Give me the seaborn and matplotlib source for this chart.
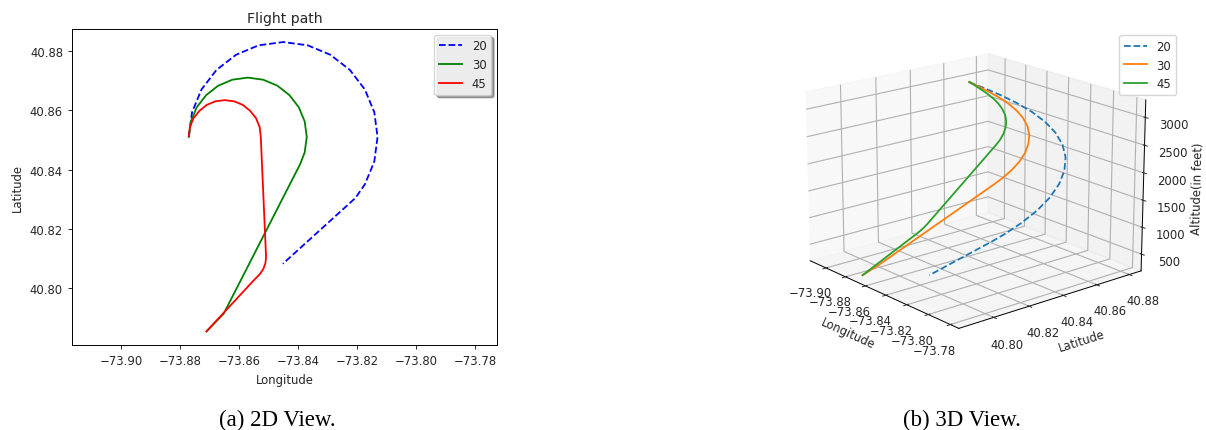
import matplotlib
matplotlib.use("Agg")
import matplotlib.pyplot as plt
import seaborn as sns
from mpl_toolkits.mplot3d import Axes3D  # noqa: F401

# ---------------- data ----------------
series_labels = ["20", "30", "45"]

lon_20 = [-73.8770, -73.8759, -73.8727, -73.8676, -73.8610, -73.8533, -73.8450,
          -73.8367, -73.8290, -73.8224, -73.8173, -73.8141, -73.8130, -73.8141,
          -73.8173, -73.8205, -73.8451]
lat_20 = [40.8510, 40.8593, 40.8670, 40.8736, 40.8787, 40.8819, 40.8830,
          40.8819, 40.8787, 40.8736, 40.8670, 40.8593, 40.8510, 40.8427,
          40.8350, 40.8304, 40.8082]
alt_20 = [3250, 3089, 2928, 2767, 2606, 2445, 2284, 2123, 1962, 1801,
          1640, 1479, 1318, 1157, 996, 889, 250]

lon_30 = [-73.8770, -73.8763, -73.8743, -73.8711, -73.8670, -73.8622, -73.8570,
          -73.8518, -73.8470, -73.8429, -73.8397, -73.8377, -73.8370, -73.8377,
          -73.8392, -73.8652, -73.8710]
lat_30 = [40.8510, 40.8562, 40.8610, 40.8651, 40.8683, 40.8703, 40.8710,
          40.8703, 40.8683, 40.8651, 40.8610, 40.8562, 40.8510, 40.8458,
          40.8419, 40.7913, 40.7854]
alt_30 = [3250, 3136, 3021, 2907, 2793, 2679, 2564, 2450, 2336, 2222,
          2107, 1993, 1879, 1765, 1674, 433, 250]

lon_45 = [-73.8770, -73.8766, -73.8754, -73.8734, -73.8709, -73.8680, -73.8648,
          -73.8616, -73.8587, -73.8562, -73.8542, -73.8530, -73.8526, -73.8508,
          -73.8510, -73.8517, -73.8530, -73.8548, -73.8710]
lat_45 = [40.8512, 40.8544, 40.8573, 40.8598, 40.8618, 40.8630, 40.8634,
          40.8630, 40.8618, 40.8598, 40.8573, 40.8544, 40.8512, 40.8105,
          40.8085, 40.8065, 40.8046, 40.8028, 40.7854]
alt_45 = [3250, 3164, 3078, 2993, 2907, 2821, 2735, 2649, 2564, 2478,
          2392, 2306, 2220, 1127, 1073, 1017, 955, 888, 250]

lon_ticks = [-73.90, -73.88, -73.86, -73.84, -73.82, -73.80, -73.78]
lat_ticks = [40.80, 40.82, 40.84, 40.86, 40.88]
alt_ticks = [500, 1000, 1500, 2000, 2500, 3000]

lon_tick_labels = ["\u221273.90", "\u221273.88", "\u221273.86", "\u221273.84",
                   "\u221273.82", "\u221273.80", "\u221273.78"]
lat_tick_labels = ["40.80", "40.82", "40.84", "40.86", "40.88"]
alt_tick_labels = ["500", "1000", "1500", "2000", "2500", "3000"]

lon_lim = (-73.9166, -73.7725)
lat_lim = (40.7808, 40.8874)

# ---------------- style ----------------
plt.rcParams.update({
    "font.family": ["DejaVu Sans"],
    "font.size": 8.4,
    "axes.linewidth": 0.7,
    "xtick.major.width": 0.7,
    "ytick.major.width": 0.7,
    "xtick.major.size": 3,
    "ytick.major.size": 3,
    "lines.linewidth": 1.3,
    "text.color": "#262626",
    "axes.labelcolor": "#262626",
    "xtick.color": "#262626",
    "ytick.color": "#262626",
})

W, H = 1206, 431
fig = plt.figure(figsize=(W / 100, H / 100), dpi=100)


def px(left, top, w, h):
    return [left / W, 1 - (top + h) / H, w / W, h / H]


# ---------------- 2D view ----------------
ax1 = fig.add_axes(px(72, 30, 425, 316))
sns.lineplot(x=lon_20, y=lat_20, sort=False, estimator=None, color="b",
             linestyle="--", linewidth=1.3, label=series_labels[0], ax=ax1)
sns.lineplot(x=lon_30, y=lat_30, sort=False, estimator=None, color="g",
             linewidth=1.3, label=series_labels[1], ax=ax1)
sns.lineplot(x=lon_45, y=lat_45, sort=False, estimator=None, color="r",
             linewidth=1.3, label=series_labels[2], ax=ax1)
ax1.set_xlim(*lon_lim)
ax1.set_ylim(*lat_lim)
ax1.set_xticks(lon_ticks)
ax1.set_xticklabels(lon_tick_labels)
ax1.set_yticks(lat_ticks)
ax1.set_yticklabels(lat_tick_labels)
ax1.set_title("Flight path", fontsize=10.1, pad=5)
ax1.set_xlabel("Longitude")
ax1.set_ylabel("Latitude")
ax1.legend(loc="upper right", shadow=True, framealpha=0.8)

# ---------------- 3D view ----------------
ax2 = fig.add_axes(px(721, 3, 497, 370), projection="3d")
pal = sns.color_palette("tab10")
ax2.plot(lon_20, lat_20, alt_20, color=pal[0], linestyle="--", linewidth=1.3,
         label=series_labels[0])
ax2.plot(lon_30, lat_30, alt_30, color=pal[1], linewidth=1.3,
         label=series_labels[1])
ax2.plot(lon_45, lat_45, alt_45, color=pal[2], linewidth=1.3,
         label=series_labels[2])
ax2.set_xlim(*lon_lim)
ax2.set_ylim(*lat_lim)
ax2.set_xticks(lon_ticks)
ax2.set_xticklabels(lon_tick_labels)
ax2.set_yticks(lat_ticks)
ax2.set_yticklabels(lat_tick_labels)
ax2.set_zticks(alt_ticks)
ax2.set_zticklabels(alt_tick_labels)
ax2.set_xlabel("Longitude", labelpad=3)
ax2.set_ylabel("Latitude", labelpad=3)
ax2.set_zlabel("Altitude(in feet)", labelpad=1)
ax2.view_init(elev=18, azim=-40)
ax2.legend(loc="upper right", bbox_to_anchor=(1176 / W, 1 - 36 / H),
           bbox_transform=fig.transFigure, borderaxespad=0)

# ---------------- captions ----------------
fig.text(277 / W, 1 - 426 / H, "(a) 2D View.", family="Liberation Serif",
         fontsize=16.5, ha="center", va="baseline", color="black")
fig.text(962 / W, 1 - 426 / H, "(b) 3D View.", family="Liberation Serif",
         fontsize=16.5, ha="center", va="baseline", color="black")

fig.savefig("out.png", dpi=100)
